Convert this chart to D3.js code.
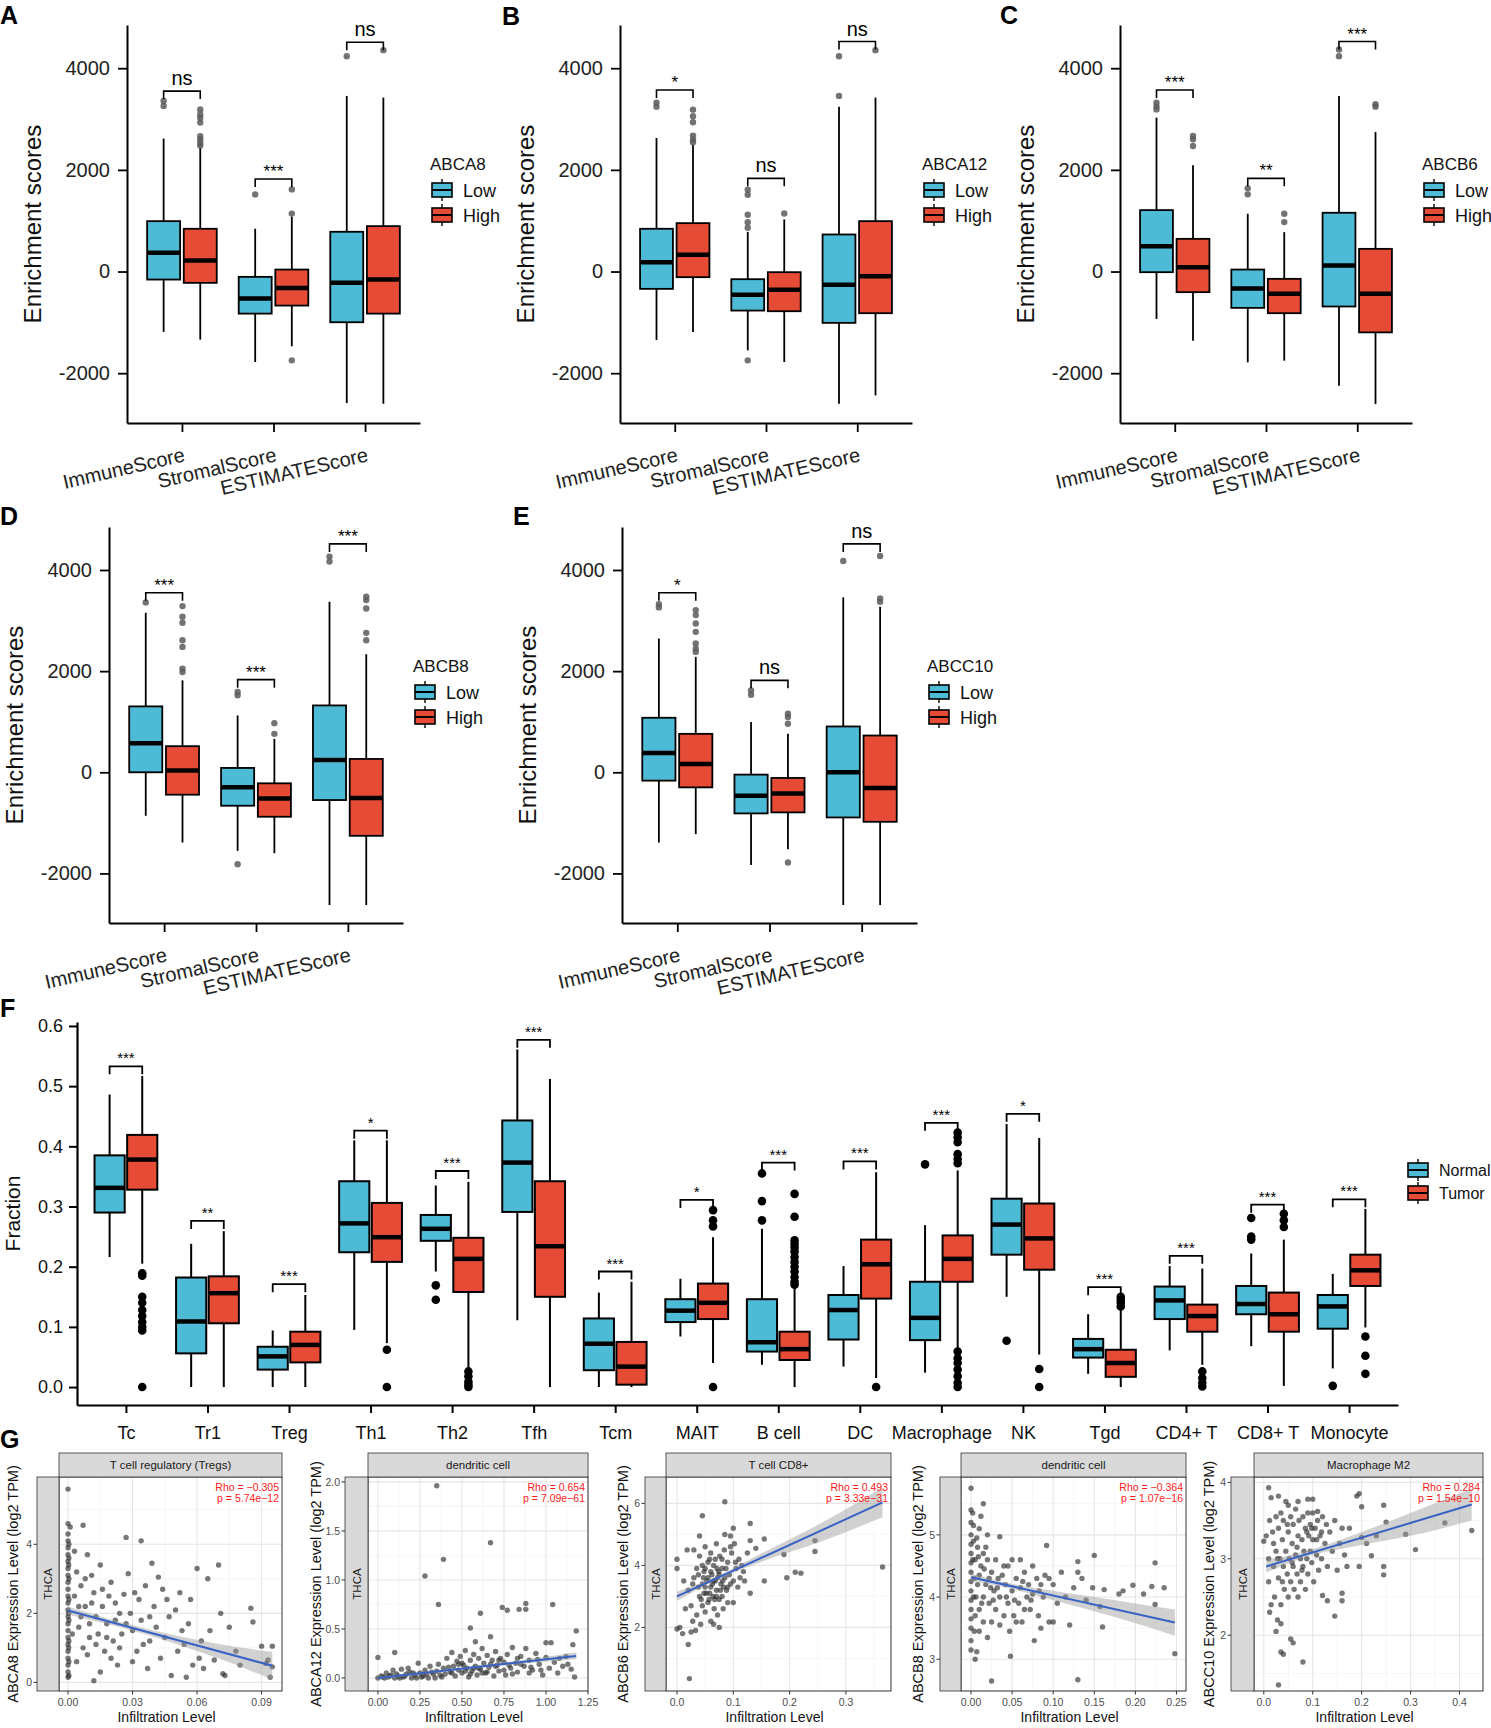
<!DOCTYPE html>
<html>
<head>
<meta charset="utf-8">
<script src="https://cdn.jsdelivr.net/npm/d3@7"></script>
<style>
  body { margin: 0; background: #fff; }
  svg { display: block; font-family: Arial, "Liberation Sans", Helvetica, sans-serif; }
</style>
</head>
<body>
<svg id="fig" width="1491" height="1728"></svg>
<script>
// ---------- data : panels A-E (ESTIMATE scores) ----------
const scoreCats = ["ImmuneScore", "StromalScore", "ESTIMATEScore"];
// each box : [lower whisker, q1, median, q3, upper whisker]
const abca8Low = [[-1188, -158, 368, 991, 2615], [-1780, -828, -532, -105, 841], [-2588, -998, -223, 782, 3455]];
const abca8High = [[-1340, -223, 217, 841, 2440], [-1471, -670, -322, 39, 1080], [-2601, -828, -158, 893, 3422]];
const abca8LowOut = [[3356, 3258], [1517], [4236]];
const abca8HighOut = [[3190, 3090, 3020, 2930, 2660, 2600, 2530, 2480], [1616, 1140, -1747], [4355]];
const abca8Sig = ["ns", "***", "ns"];
const abca8SigY = [3550, 1820, 4510];

const abca12Low = [[-1347, -341, 184, 841, 2627], [-1550, -768, -459, -151, 780], [-2601, -1010, -262, 729, 3244]];
const abca12High = [[-1188, -111, 328, 952, 2500], [-1780, -781, -360, -13, 1025], [-2437, -820, -92, 991, 3422]];
const abca12LowOut = [[3323, 3244], [1610, 1511, 1118, 971, 860, -1747], [4236, 3455]];
const abca12HighOut = [[3185, 3054, 2936, 2674, 2595, 2542], [1143], [4355]];
const abca12Sig = ["*", "ns", "ns"];
const abca12SigY = [3572, 1833, 4525];

const abcb6Low = [[-932, -13, 498, 1208, 3028], [-1787, -715, -335, 39, 1137], [-2247, -688, 118, 1156, 3455]];
const abcb6High = [[-1360, -406, 85, 643, 2090], [-1754, -820, -439, -144, 775], [-2608, -1197, -439, 446, 2746]];
const abcb6LowOut = [[3320, 3250, 3190], [1636, 1518], [4367, 4236]];
const abcb6HighOut = [[2667, 2601, 2470], [1137, 972], [3290, 3244]];
const abcb6Sig = ["***", "**", "***"];
const abcb6SigY = [3570, 1833, 4525];

const abcb8Low = [[-860, 0, 575, 1303, 3154], [-1554, -661, -298, 86, 1124], [-2625, -549, 245, 1322, 3372]];
const abcb8High = [[-1389, -443, 33, 516, 1818], [-1600, -879, -516, -218, 661], [-2625, -1256, -509, 264, 2334]];
const abcb8LowOut = [[3359], [1587, 1521, -1818], [4265, 4166]];
const abcb8HighOut = [[3286, 3075, 2956, 2612, 2479, 2050, 1984], [972, 760], [3471, 3405, 3240, 2757, 2612]];
const abcb8Sig = ["***", "***", "***"];
const abcb8SigY = [3551, 1832, 4516];

const abcc10Low = [[-1389, -165, 383, 1078, 2645], [-1832, -813, -463, -46, 992], [-2625, -893, 0, 906, 3458]];
const abcc10High = [[-1223, -298, 165, 760, 2281], [-1521, -793, -417, -112, 760], [-2625, -979, -311, 727, 3273]];
const abcc10LowOut = [[3326, 3260], [1620, 1534], [4179]];
const abcc10HighOut = [[3207, 3108, 2942, 2777, 2546, 2446, 2380], [1157, 1091, 959, -1785], [4278, 3438, 3372]];
const abcc10Sig = ["*", "ns", "ns"];
const abcc10SigY = [3551, 1818, 4516];

const scoreTicks = [-2000, 0, 2000, 4000];
const groupNames = ["Low", "High"];

// ---------- data : panel F (immune cell fractions) ----------
const cellTypes = ["Tc", "Tr1", "Treg", "Th1", "Th2", "Tfh", "Tcm", "MAIT", "B cell", "DC", "Macrophage", "NK", "Tgd", "CD4+ T", "CD8+ T", "Monocyte"];
const normalStats = [
  [0.216, 0.290, 0.331, 0.385, 0.486], [0.0, 0.056, 0.109, 0.182, 0.238], [0.0, 0.029, 0.051, 0.067, 0.094],
  [0.095, 0.224, 0.272, 0.342, 0.410], [0.192, 0.243, 0.263, 0.286, 0.335], [0.111, 0.291, 0.373, 0.443, 0.561],
  [0.0, 0.028, 0.072, 0.114, 0.157], [0.084, 0.108, 0.127, 0.146, 0.180], [0.037, 0.059, 0.0745, 0.146, 0.263],
  [0.034, 0.079, 0.128, 0.153, 0.201], [0.024, 0.078, 0.115, 0.175, 0.269], [0.150, 0.220, 0.270, 0.313, 0.437],
  [0.022, 0.049, 0.063, 0.080, 0.121], [0.061, 0.113, 0.144, 0.167, 0.201], [0.068, 0.121, 0.138, 0.168, 0.222],
  [0.031, 0.097, 0.134, 0.153, 0.188]];
const tumorStats = [
  [0.205, 0.328, 0.378, 0.419, 0.517], [0.0, 0.106, 0.156, 0.184, 0.259], [0.0, 0.041, 0.070, 0.092, 0.153],
  [0.073, 0.208, 0.249, 0.306, 0.410], [0.031, 0.158, 0.213, 0.248, 0.341], [0.0, 0.150, 0.234, 0.342, 0.512],
  [0.0, 0.004, 0.034, 0.075, 0.175], [0.040, 0.113, 0.140, 0.172, 0.249], [0.0, 0.045, 0.063, 0.092, 0.167],
  [0.015, 0.147, 0.204, 0.245, 0.357], [0.065, 0.175, 0.213, 0.252, 0.360], [0.054, 0.195, 0.247, 0.305, 0.414],
  [0.0, 0.017, 0.040, 0.062, 0.128], [0.037, 0.092, 0.118, 0.137, 0.197], [0.002, 0.092, 0.121, 0.157, 0.245],
  [0.099, 0.168, 0.194, 0.220, 0.296]];
const normalOut = [[], [], [], [], [0.169, 0.145], [], [], [], [0.355, 0.309, 0.277], [], [0.370], [0.077], [], [], [0.281, 0.250, 0.245], [0.002]];
const tumorOut = [
  [0.189, 0.185, 0.150, 0.140, 0.128, 0.118, 0.108, 0.100, 0.094, 0.0], [], [], [0.062, 0.0],
  [0.026, 0.018, 0.009, 0.004, 0.0], [], [], [0.294, 0.277, 0.267, 0.0],
  [0.321, 0.283, 0.244, 0.238, 0.232, 0.225, 0.216, 0.208, 0.200, 0.192, 0.183, 0.175, 0.170], [0.0],
  [0.423, 0.415, 0.407, 0.387, 0.379, 0.372, 0.059, 0.048, 0.040, 0.029, 0.018, 0.007, 0.0], [0.030, 0.0],
  [0.150, 0.145, 0.140, 0.134], [0.026, 0.015, 0.007, 0.001], [0.288, 0.277, 0.266], [0.084, 0.052, 0.022]];
const cellSig = ["***", "**", "***", "*", "***", "***", "***", "*", "***", "***", "***", "*", "***", "***", "***", "***"];
const cellSigY = [0.533, 0.276, 0.171, 0.426, 0.359, 0.577, 0.192, 0.311, 0.373, 0.375, 0.439, 0.454, 0.166, 0.218, 0.303, 0.312];
const fractionTicks = [0, 0.1, 0.2, 0.3, 0.4, 0.5, 0.6];
const tissueNames = ["Normal", "Tumor"];

// ---------- data : panel G (TIMER correlations) ----------
const g1Points = [[0,5.6],[0,4.6],[0,4.3],[0,4.1],[0,3.9],[0,3.7],[0,3.5],[0,3.3],[0,3.1],[0,2.9],[0,2.7],[0,2.5],[0,2.3],[0,2.1],[0,1.9],[0,1.7],[0,1.5],[0,1.3],[0,1.1],[0,0.9],[0,0.7],[0,0.5],[0,0.3],[0,0.15],
  [0.0004,4.0],[0.0004,3.6],[0.0004,3.0],[0.0004,2.4],[0.0004,1.8],[0.0004,1.2],[0.0004,0.6],[0.0004,0.2],[0.0003,3.4],[0.0003,2.0],[0.0003,1.0],
  [0.001,4.5],[0.007,4.55],[0.009,3.7],[0.004,3.2],[0.006,2.8],[0.003,2.5],[0.008,2.2],[0.011,3.1],[0.012,2.6],[0.013,1.9],[0.005,1.6],[0.01,1.3],[0.007,1.0],[0.004,0.6],[0.012,0.05],
  [0.015,3.4],[0.016,2.2],[0.018,1.7],[0.02,2.9],[0.021,1.2],[0.023,0.5],[0.024,2.0],[0.026,2.55],[0.027,4.2],[0.028,3.15],[0.03,1.5],[0.032,0.9],[0.033,2.4],[0.034,4.1],[0.035,1.1],
  [0.036,2.8],[0.037,0.4],[0.038,1.9],[0.039,3.45],[0.04,2.2],[0.041,1.6],[0.042,3.05],[0.043,0.7],[0.044,2.7],[0.045,1.3],[0.047,1.9],[0.048,0.2],[0.05,2.1],[0.051,0.9],[0.052,2.6],
  [0.053,1.5],[0.055,0.15],[0.056,1.7],[0.057,2.4],[0.06,3.3],[0.061,0.7],[0.062,1.2],[0.063,0.4],[0.065,3.0],[0.066,1.5],[0.068,0.65],[0.07,3.4],[0.071,2.0],[0.072,0.25],[0.073,0.2],
  [0.075,1.6],[0.078,0.9],[0.08,0.5],[0.085,2.15],[0.086,1.75],[0.09,1.05],[0.092,0.55],[0.095,0.45],[0.094,0.15],[0.095,1.05],[0.093,0.65],
  [0.002,1.4],[0.006,1.9],[0.009,0.8],[0.014,1.4],[0.017,0.9],[0.019,2.5],[0.022,1.8],[0.025,1.4],[0.029,2.0],[0.031,2.6],[0.015,0.3],[0.02,0.7],[0.011,2.3],[0.008,3.0],
  [0.003,3.8],[0.005,2.2],[0.01,1.7],[0.013,1.1],[0.016,2.7],[0.018,1.3],[0.022,2.3],[0.024,1.0],[0.027,1.7],[0.03,0.6],[0.034,1.8],[0.038,1.2],[0.046,2.4],[0.054,1.1],[0.058,0.5]];
const g1Line = [[0, 2.08], [0.095, 0.48]];
const g1Band = [[0, 1.96, 2.2], [0.025, 1.58, 1.74], [0.05, 1.12, 1.36], [0.075, 0.58, 1.06], [0.095, 0.08, 0.88]];

const g2Points = [[0.35,1.96],[0.67,1.38],[0.39,1.21],[0.28,1.04],[0.36,0.75],[0.61,0.66],[0.74,0.72],[0.77,0.69],[0.84,0.70],[0.88,0.76],[0.88,0.70],[1.04,0.75],[0.55,0.51],[1.18,0.48],[0.67,0.42],
  [0.0,0.21],[0.1,0.26],[1.0,0.36],[1.03,0.36],[1.16,0.34],[0.58,0.37],
  [0.0,0.0],[0.02,0.02],[0.04,0.0],[0.06,0.01],[0.08,0.03],[0.1,0.0],[0.12,0.02],[0.14,0.09],[0.15,0.01],[0.17,0.04],[0.19,0.06],[0.2,0.0],[0.22,0.03],[0.24,0.15],[0.25,0.05],[0.27,0.02],
  [0.28,0.08],[0.3,0.0],[0.31,0.12],[0.33,0.04],[0.35,0.07],[0.36,0.14],[0.38,0.01],[0.39,0.1],[0.4,0.04],[0.41,0.2],[0.43,0.06],[0.44,0.26],[0.45,0.12],[0.46,0.02],[0.47,0.17],[0.48,0.08],
  [0.49,0.22],[0.5,0.05],[0.51,0.13],[0.52,0.28],[0.53,0.1],[0.54,0.01],[0.55,0.18],[0.56,0.07],[0.57,0.24],[0.58,0.12],[0.59,0.03],[0.6,0.2],[0.61,0.09],[0.62,0.3],[0.63,0.15],[0.64,0.05],
  [0.65,0.23],[0.66,0.11],[0.68,0.18],[0.69,0.02],[0.7,0.27],[0.71,0.13],[0.72,0.07],[0.73,0.2],[0.75,0.16],[0.76,0.03],[0.77,0.24],[0.79,0.1],[0.8,0.31],[0.82,0.15],[0.83,0.06],[0.85,0.22],
  [0.87,0.12],[0.88,0.3],[0.9,0.18],[0.92,0.08],[0.94,0.25],[0.96,0.14],[0.98,0.03],[1.0,0.21],[1.02,0.1],[1.05,0.16],[1.07,0.05],[1.1,0.12],[1.12,0.22],[1.15,0.09],[1.17,0.01],
  [0.05,0.05],[0.09,0.08],[0.13,0.0],[0.18,0.1],[0.23,0.0],[0.29,0.04],[0.34,0.0],[0.42,0.11],[0.5,0.15],[0.55,0.04],[0.6,0.1],[0.65,0.06],[0.7,0.12],[0.75,0.08],[0.8,0.04],[0.85,0.14],
  [0.9,0.05],[0.95,0.19],[0.03,0.01],[0.07,0.02],[0.11,0.04],[0.16,0.02],[0.21,0.05],[0.26,0.01],[0.32,0.06],[0.37,0.03],[0.44,0.05],[0.48,0.14],[0.52,0.07],[0.57,0.1],[0.62,0.05],[0.67,0.14],
  [0.72,0.18],[0.78,0.13],[0.83,0.2],[0.91,0.11],[0.97,0.08],[1.08,0.2],[1.13,0.14]];
const g2Line = [[0, 0.0], [1.18, 0.225]];
const g2Band = [[0, -0.02, 0.02], [0.5, 0.085, 0.105], [1.18, 0.19, 0.26]];

const g3Points = [[0.085,6.05],[0.045,5.6],[0.13,5.35],[0.1,5.2],[0.365,3.95],[0.245,4.8],[0.245,4.45],[0.19,4.35],[0.21,3.78],[0.22,3.75],[0.195,3.6],[0.155,3.5],[0.13,3.1],[0.155,4.85],
  [0.022,0.35],[0.02,1.45],[0.01,1.8],[0.0,1.95],[0.005,2.0],[0.025,1.85],[0.0,4.2],[0.0,3.9],[0.04,4.95],[0.085,5.0],[0.095,4.95],[0.13,4.8],[0.14,4.55],
  [0.02,3.2],[0.025,2.7],[0.03,3.6],[0.03,4.5],[0.035,2.4],[0.035,3.9],[0.04,3.0],[0.04,4.3],[0.042,2.1],[0.045,3.4],[0.045,2.7],[0.048,3.8],[0.05,4.6],[0.05,2.5],[0.052,3.1],[0.055,3.6],
  [0.055,4.1],[0.057,2.9],[0.06,3.3],[0.06,2.2],[0.06,4.4],[0.062,3.7],[0.064,3.0],[0.065,4.0],[0.066,2.6],[0.068,3.5],[0.07,4.7],[0.07,3.2],[0.072,2.4],[0.074,3.8],[0.075,2.9],[0.076,4.3],
  [0.078,3.4],[0.08,3.0],[0.08,3.9],[0.082,2.6],[0.084,4.5],[0.085,3.6],[0.088,3.2],[0.09,4.1],[0.09,2.8],[0.093,3.7],[0.095,4.6],[0.097,4.4],[0.1,3.5],[0.1,2.8],[0.102,4.7],[0.105,3.9],
  [0.108,3.3],[0.11,4.2],[0.112,3.6],[0.115,4.0],[0.12,3.5],[0.125,4.4],[0.05,3.9],[0.065,3.5],[0.058,3.1],[0.047,3.6],[0.072,3.6],[0.081,3.5],[0.038,3.3],[0.015,2.6],[0.028,2.2],[0.033,1.9],
  [0.065,2.1],[0.075,2.0],[0.012,3.5],[0.018,4.5],[0.09,3.3],[0.068,4.2],[0.055,2.8],[0.045,4.0],[0.05,3.3],[0.06,3.8],[0.07,3.0],[0.075,3.7],[0.08,4.2],[0.063,3.4],[0.053,3.5],[0.043,2.9],
  [0.067,2.9],[0.077,3.2],[0.087,3.9],[0.058,4.2],[0.048,3.1],[0.038,3.7],[0.028,3.4],[0.071,3.9],[0.083,3.3],[0.095,3.4],[0.104,4.1],[0.118,3.8]];
const g3Line = [[0, 3.0], [0.365, 6.03]];
const g3Band = [[0, 2.85, 3.15], [0.06, 3.44, 3.56], [0.15, 4.12, 4.38], [0.25, 4.73, 5.3], [0.365, 5.55, 6.5]];

const g4Points = [[0,5.75],[0,5.4],[0,5.2],[0,5.0],[0,4.85],[0,4.7],[0,4.55],[0,4.4],[0,4.25],[0,4.1],[0,3.95],[0,3.8],[0,3.65],[0,3.5],[0,3.3],[0,3.15],
  [0.002,5.35],[0.003,4.9],[0.002,4.6],[0.004,4.3],[0.003,4.0],[0.005,3.7],[0.004,3.45],
  [0.015,5.5],[0.01,5.1],[0.008,4.8],[0.012,4.5],[0.015,4.7],[0.018,4.2],[0.02,4.6],[0.022,3.9],[0.025,4.4],[0.025,2.65],[0.028,4.1],[0.03,4.6],[0.03,3.8],[0.033,4.3],[0.035,4.0],[0.035,4.97],
  [0.04,4.5],[0.04,3.7],[0.042,4.2],[0.045,3.9],[0.047,3.45],[0.048,3.05],[0.05,4.6],[0.05,4.1],[0.052,3.7],[0.055,4.3],[0.058,3.9],[0.06,4.15],[0.062,3.6],[0.065,4.4],[0.068,4.0],[0.07,4.2],
  [0.072,3.8],[0.075,4.05],[0.077,3.3],[0.08,4.3],[0.082,3.7],[0.085,3.5],[0.088,4.0],[0.09,4.35],[0.092,4.83],[0.095,3.6],[0.1,4.2],[0.1,3.6],[0.105,3.9],[0.11,4.4],[0.115,4.0],[0.12,3.55],
  [0.125,4.15],[0.13,4.57],[0.13,4.4],[0.13,2.67],[0.135,4.3],[0.14,3.95],[0.148,4.15],[0.15,4.67],[0.157,3.85],[0.16,3.52],[0.162,4.12],[0.18,4.05],[0.185,4.1],[0.197,4.19],[0.21,4.05],
  [0.22,4.17],[0.224,4.55],[0.224,3.88],[0.235,4.15],[0.248,3.09],[0.005,3.0],[0.007,3.12],[0.01,3.45],[0.015,3.6],[0.02,3.35],[0.01,3.8],[0.02,5.0],[0.035,3.55],[0.045,4.5],[0.055,3.6],
  [0.065,3.8],[0.06,4.6],[0.075,4.5],[0.085,4.2],[0.095,4.3],[0.015,4.0],[0.025,3.6],[0.012,5.3],[0.008,4.2],[0.005,4.6],[0.006,4.0],[0.01,4.35],[0.013,3.9],[0.018,4.8],[0.022,4.3],
  [0.027,3.95],[0.032,4.15],[0.038,4.35],[0.043,4.0],[0.053,3.95],[0.063,4.25],[0.073,3.95],[0.083,4.1],[0.009,4.65],[0.016,4.45],[0.024,4.15],[0.003,5.15],[0.007,4.95]];
const g4Line = [[0, 4.32], [0.248, 3.59]];
const g4Band = [[0, 4.26, 4.38], [0.03, 4.19, 4.27], [0.1, 3.95, 4.1], [0.175, 3.68, 3.95], [0.248, 3.38, 3.8]];

const g5Points = [[0.01,3.93],[0.03,3.82],[0.0,3.23],[0.03,1.35],[0.035,1.78],[0.04,1.75],[0.08,1.65],[0.055,1.95],[0.06,1.9],[0.145,2.25],[0.425,3.37],[0.37,3.47],[0.31,3.12],[0.29,3.32],
  [0.25,3.48],[0.245,3.7],[0.245,2.9],[0.245,2.79],[0.22,3.04],[0.2,3.68],[0.195,3.85],[0.19,3.82],[0.16,2.45],[0.16,2.55],[0.13,2.45],[0.12,2.52],[0.175,3.4],[0.2,3.28],[0.21,3.2],[0.23,3.3],
  [0.195,2.9],[0.07,3.75],
  [0.005,3.3],[0.01,3.0],[0.01,2.7],[0.012,3.5],[0.015,2.4],[0.015,3.8],[0.02,3.2],[0.02,2.9],[0.022,2.5],[0.025,3.55],[0.025,3.1],[0.028,2.2],[0.03,3.4],[0.03,2.75],[0.033,3.0],[0.035,3.6],
  [0.035,2.4],[0.038,3.25],[0.04,2.9],[0.04,3.5],[0.042,2.6],[0.045,3.1],[0.045,3.75],[0.048,2.8],[0.05,3.35],[0.05,2.5],[0.052,3.0],[0.055,3.55],[0.055,2.7],[0.058,3.2],[0.06,2.9],[0.06,3.45],
  [0.062,2.6],[0.065,3.05],[0.065,3.65],[0.068,2.8],[0.07,3.3],[0.07,2.5],[0.072,3.5],[0.075,3.0],[0.075,2.7],[0.078,3.25],[0.08,3.55],[0.08,2.9],[0.082,3.1],[0.085,3.4],[0.085,2.6],[0.088,3.0],
  [0.09,3.6],[0.09,2.8],[0.092,3.3],[0.095,3.1],[0.095,3.45],[0.098,2.95],[0.1,3.25],[0.1,3.6],[0.102,2.7],[0.105,3.4],[0.108,3.05],[0.11,3.5],[0.112,2.85],[0.115,3.3],[0.118,3.0],[0.12,3.55],
  [0.125,3.2],[0.13,2.9],[0.135,3.35],[0.14,3.1],[0.145,3.5],[0.15,2.85],[0.155,3.2],[0.16,3.4],[0.165,3.05],[0.17,2.9],[0.09,3.78],[0.1,3.78],[0.11,3.62],[0.05,3.7],
  [0.018,3.35],[0.028,3.0],[0.038,2.7],[0.048,3.45],[0.058,2.95],[0.068,3.15],[0.078,2.85],[0.088,3.35],[0.098,3.4],[0.108,3.25],[0.118,3.35],[0.128,3.45],[0.012,2.3],[0.025,2.05],[0.035,2.15]];
const g5Line = [[0.005, 2.9], [0.425, 3.71]];
const g5Band = [[0.005, 2.82, 2.98], [0.08, 3.01, 3.09], [0.2, 3.18, 3.35], [0.3, 3.3, 3.6], [0.425, 3.5, 3.92]];

// ---------- drawing ----------
const colLow = "#4DBBD5", colHigh = "#E64B35";
const svg = d3.select("#fig");

function panelLabel(txt, x, y) {
  svg.append("text").attr("x", x).attr("y", y).text(txt)
    .attr("font-size", 25).attr("font-weight", "bold").attr("fill", "#000");
}

function drawBox(g, cx, w, s, y, fill, medW, lw) {
  g.append("line").attr("x1", cx).attr("x2", cx).attr("y1", y(s[0])).attr("y2", y(s[1]))
    .attr("stroke", "#000").attr("stroke-width", lw);
  g.append("line").attr("x1", cx).attr("x2", cx).attr("y1", y(s[3])).attr("y2", y(s[4]))
    .attr("stroke", "#000").attr("stroke-width", lw);
  g.append("rect").attr("x", cx - w / 2).attr("y", y(s[3])).attr("width", w).attr("height", y(s[1]) - y(s[3]))
    .attr("fill", fill).attr("stroke", "#000").attr("stroke-width", lw);
  g.append("line").attr("x1", cx - w / 2).attr("x2", cx + w / 2).attr("y1", y(s[2])).attr("y2", y(s[2]))
    .attr("stroke", "#000").attr("stroke-width", medW);
}

function legendKey(g, x, y, fill) {
  g.append("line").attr("x1", x + 10).attr("x2", x + 10).attr("y1", y - 11).attr("y2", y + 11).attr("stroke", "#000").attr("stroke-width", 1.4);
  g.append("rect").attr("x", x).attr("y", y - 7).attr("width", 20).attr("height", 14)
    .attr("fill", fill).attr("stroke", "#000").attr("stroke-width", 1.6);
  g.append("line").attr("x1", x).attr("x2", x + 20).attr("y1", y).attr("y2", y).attr("stroke", "#000").attr("stroke-width", 2);
}

function bracket(g, xa, xb, yv, label, fs) {
  g.append("path").attr("d", `M${xa},${yv + 8}V${yv}H${xb}V${yv + 8}`)
    .attr("fill", "none").attr("stroke", "#000").attr("stroke-width", 1.6);
  g.append("text").attr("x", (xa + xb) / 2).attr("y", label === "ns" ? yv - 6 : yv - 2)
    .attr("text-anchor", "middle").attr("font-size", label === "ns" ? 20 : fs).attr("fill", "#000").text(label);
}

function scorePanel(c) {
  const g = svg.append("g");
  const x = d3.scalePoint().domain(scoreCats).range([c.x0, c.x1]).padding(0.6);
  const y = d3.scaleLinear().domain([-2980, 4850]).range([c.y1, c.y0]);
  const step = x.step(), off = step * 0.2, bw = step * 0.36;

  const ya = g.append("g").attr("transform", `translate(${c.x0},0)`)
    .call(d3.axisLeft(y).tickValues(scoreTicks).tickSize(9).tickSizeOuter(0).tickPadding(8).tickFormat(d => String(d)));
  const xa = g.append("g").attr("transform", `translate(0,${c.y1})`)
    .call(d3.axisBottom(x).tickSize(9).tickSizeOuter(0).tickFormat(""));
  [ya, xa].forEach(a => {
    a.select(".domain").attr("stroke", "#000").attr("stroke-width", 2);
    a.selectAll(".tick line").attr("stroke", "#000").attr("stroke-width", 1.8);
    a.selectAll(".tick text").attr("font-size", 20).attr("fill", "#222").attr("font-family", null);
  });

  scoreCats.forEach((cat, i) => {
    g.append("text").attr("transform", `translate(${x(cat) + 4},${c.y1 + 38}) rotate(-13)`)
      .attr("text-anchor", "end").attr("font-size", 20).attr("fill", "#222").text(cat);
    drawBox(g, x(cat) - off, bw, c.low[i], y, colLow, 4.5, 1.8);
    drawBox(g, x(cat) + off, bw, c.high[i], y, colHigh, 4.5, 1.8);
    g.selectAll(null).data(c.lowOut[i]).join("circle")
      .attr("cx", x(cat) - off).attr("cy", d => y(d)).attr("r", 3.2).attr("fill", "#5a5a5a").attr("opacity", 0.85);
    g.selectAll(null).data(c.highOut[i]).join("circle")
      .attr("cx", x(cat) + off).attr("cy", d => y(d)).attr("r", 3.2).attr("fill", "#5a5a5a").attr("opacity", 0.85);
    bracket(g, x(cat) - off, x(cat) + off, y(c.sigY[i]), c.sig[i], 17);
  });

  g.append("text").attr("transform", `translate(${c.x0 - 86},${(c.y0 + c.y1) / 2}) rotate(-90)`)
    .attr("text-anchor", "middle").attr("font-size", 24).attr("fill", "#111").text("Enrichment scores");

  // legend
  const lx = c.x1 + 10, ly = c.y0 + 145;
  g.append("text").attr("x", lx).attr("y", ly).attr("font-size", 17).attr("fill", "#111").text(c.gene);
  [colLow, colHigh].forEach((col, k) => {
    legendKey(g, lx + 2, ly + 20 + k * 25, col);
    g.append("text").attr("x", lx + 33).attr("y", ly + 27 + k * 25).attr("font-size", 18).attr("fill", "#111").text(groupNames[k]);
  });
}

scorePanel({ x0: 127, x1: 420, y0: 25, y1: 423, gene: "ABCA8", low: abca8Low, high: abca8High, lowOut: abca8LowOut, highOut: abca8HighOut, sig: abca8Sig, sigY: abca8SigY });
scorePanel({ x0: 620, x1: 912, y0: 25, y1: 423, gene: "ABCA12", low: abca12Low, high: abca12High, lowOut: abca12LowOut, highOut: abca12HighOut, sig: abca12Sig, sigY: abca12SigY });
scorePanel({ x0: 1120, x1: 1412, y0: 25, y1: 423, gene: "ABCB6", low: abcb6Low, high: abcb6High, lowOut: abcb6LowOut, highOut: abcb6HighOut, sig: abcb6Sig, sigY: abcb6SigY });
scorePanel({ x0: 109, x1: 403, y0: 527, y1: 923, gene: "ABCB8", low: abcb8Low, high: abcb8High, lowOut: abcb8LowOut, highOut: abcb8HighOut, sig: abcb8Sig, sigY: abcb8SigY });
scorePanel({ x0: 622, x1: 917, y0: 527, y1: 923, gene: "ABCC10", low: abcc10Low, high: abcc10High, lowOut: abcc10LowOut, highOut: abcc10HighOut, sig: abcc10Sig, sigY: abcc10SigY });

// ---------- panel F ----------
(function () {
  const g = svg.append("g");
  const x0 = 77, x1 = 1398, y0 = 1022, y1 = 1405;
  const x = d3.scalePoint().domain(cellTypes).range([x0, x1]).padding(0.6);
  const y = d3.scaleLinear().domain([-0.0298, 0.6066]).range([y1, y0]);
  const step = x.step(), off = step * 0.2, bw = step * 0.37;

  const ya = g.append("g").attr("transform", `translate(${x0},0)`)
    .call(d3.axisLeft(y).tickValues(fractionTicks).tickSize(8).tickSizeOuter(0).tickPadding(6).tickFormat(d3.format(".1f")));
  const xa = g.append("g").attr("transform", `translate(0,${y1})`)
    .call(d3.axisBottom(x).tickSize(8).tickSizeOuter(0).tickPadding(13));
  [ya, xa].forEach(a => {
    a.select(".domain").attr("stroke", "#000").attr("stroke-width", 2.2);
    a.selectAll(".tick line").attr("stroke", "#000").attr("stroke-width", 2);
    a.selectAll(".tick text").attr("font-size", 18).attr("fill", "#111").attr("font-family", null);
  });

  cellTypes.forEach((ct, i) => {
    drawBox(g, x(ct) - off, bw, normalStats[i], y, colLow, 4.5, 2);
    drawBox(g, x(ct) + off, bw, tumorStats[i], y, colHigh, 4.5, 2);
    g.selectAll(null).data(normalOut[i]).join("circle")
      .attr("cx", x(ct) - off).attr("cy", d => y(d)).attr("r", 4.3).attr("fill", "#000");
    g.selectAll(null).data(tumorOut[i]).join("circle")
      .attr("cx", x(ct) + off).attr("cy", d => y(d)).attr("r", 4.3).attr("fill", "#000");
    g.append("path").attr("d", `M${x(ct) - off},${y(cellSigY[i]) + 8}V${y(cellSigY[i])}H${x(ct) + off}V${y(cellSigY[i]) + 8}`)
      .attr("fill", "none").attr("stroke", "#000").attr("stroke-width", 1.8);
    g.append("text").attr("x", x(ct)).attr("y", y(cellSigY[i]) - 3).attr("text-anchor", "middle")
      .attr("font-size", 15).attr("fill", "#000").text(cellSig[i]);
  });

  g.append("text").attr("transform", `translate(20,${(y0 + y1) / 2}) rotate(-90)`)
    .attr("text-anchor", "middle").attr("font-size", 21).attr("fill", "#111").text("Fraction");

  [colLow, colHigh].forEach((col, k) => {
    legendKey(g, 1408, 1170 + k * 23, col);
    g.append("text").attr("x", 1439).attr("y", 1176 + k * 23).attr("font-size", 16).attr("fill", "#111").text(tissueNames[k]);
  });
})();

// ---------- panel G ----------
function scatterPanel(c, idx) {
  const g = svg.append("g");
  const top = 1477, bot = 1691, head = 1453;
  const x = d3.scaleLinear().domain(c.xDom).range([c.px0, c.px1]);
  const y = d3.scaleLinear().domain(c.yDom).range([bot, top]);

  g.append("rect").attr("x", c.px0).attr("y", top).attr("width", c.px1 - c.px0).attr("height", bot - top).attr("fill", "#fff");
  c.xMinor.forEach(v => g.append("line").attr("x1", x(v)).attr("x2", x(v)).attr("y1", top).attr("y2", bot).attr("stroke", "#f2f2f2").attr("stroke-width", 0.7));
  c.yMinor.forEach(v => g.append("line").attr("x1", c.px0).attr("x2", c.px1).attr("y1", y(v)).attr("y2", y(v)).attr("stroke", "#f2f2f2").attr("stroke-width", 0.7));
  c.xTicks.forEach(v => g.append("line").attr("x1", x(v)).attr("x2", x(v)).attr("y1", top).attr("y2", bot).attr("stroke", "#e6e6e6").attr("stroke-width", 1.1));
  c.yTicks.forEach(v => g.append("line").attr("x1", c.px0).attr("x2", c.px1).attr("y1", y(v)).attr("y2", y(v)).attr("stroke", "#e6e6e6").attr("stroke-width", 1.1));

  svg.append("clipPath").attr("id", "clipG" + idx).append("rect")
    .attr("x", c.px0).attr("y", top).attr("width", c.px1 - c.px0).attr("height", bot - top);
  const inner = g.append("g").attr("clip-path", `url(#clipG${idx})`);

  inner.selectAll("circle").data(c.pts).join("circle")
    .attr("cx", d => x(d[0])).attr("cy", d => y(d[1])).attr("r", 2.7)
    .attr("fill", "#2e2e2e").attr("opacity", 0.65);
  inner.append("path").datum(c.band)
    .attr("d", d3.area().x(d => x(d[0])).y0(d => y(d[1])).y1(d => y(d[2])).curve(d3.curveMonotoneX))
    .attr("fill", "#999").attr("opacity", 0.45);
  inner.append("path").datum(c.line)
    .attr("d", d3.line().x(d => x(d[0])).y(d => y(d[1])))
    .attr("fill", "none").attr("stroke", "#3a62c4").attr("stroke-width", 2);

  g.append("rect").attr("x", c.px0).attr("y", top).attr("width", c.px1 - c.px0).attr("height", bot - top)
    .attr("fill", "none").attr("stroke", "#333").attr("stroke-width", 1);

  // strips
  g.append("rect").attr("x", c.px0).attr("y", head).attr("width", c.px1 - c.px0).attr("height", top - head)
    .attr("fill", "#d9d9d9").attr("stroke", "#333").attr("stroke-width", 0.8);
  g.append("text").attr("x", (c.px0 + c.px1) / 2).attr("y", head + 16).attr("text-anchor", "middle")
    .attr("font-size", 11.5).attr("fill", "#1a1a1a").text(c.strip);
  g.append("rect").attr("x", c.sx0).attr("y", top).attr("width", c.px0 - c.sx0).attr("height", bot - top)
    .attr("fill", "#d9d9d9").attr("stroke", "#333").attr("stroke-width", 0.8);
  g.append("text").attr("transform", `translate(${(c.sx0 + c.px0) / 2 + 4},${(top + bot) / 2}) rotate(-90)`)
    .attr("text-anchor", "middle").attr("font-size", 11.5).attr("fill", "#1a1a1a").text("THCA");

  // axes
  c.yTicks.forEach(v => {
    g.append("line").attr("x1", c.sx0 - 3.5).attr("x2", c.sx0).attr("y1", y(v)).attr("y2", y(v)).attr("stroke", "#333");
    g.append("text").attr("x", c.sx0 - 5).attr("y", y(v) + 3.8).attr("text-anchor", "end")
      .attr("font-size", 10.5).attr("fill", "#4d4d4d").text(c.yFmt(v));
  });
  c.xTicks.forEach(v => {
    g.append("line").attr("x1", x(v)).attr("x2", x(v)).attr("y1", bot).attr("y2", bot + 3.5).attr("stroke", "#333");
    g.append("text").attr("x", x(v)).attr("y", bot + 14.5).attr("text-anchor", "middle")
      .attr("font-size", 10.5).attr("fill", "#4d4d4d").text(c.xFmt(v));
  });
  g.append("text").attr("x", (c.px0 + c.px1) / 2 - 4).attr("y", 1722).attr("text-anchor", "middle")
    .attr("font-size", 14).attr("fill", "#111").text("Infiltration Level");
  g.append("text").attr("transform", `translate(${c.tx},${(top + bot) / 2}) rotate(-90)`)
    .attr("text-anchor", "middle").attr("font-size", 14.5).attr("fill", "#111").text(c.gene + " Expression Level (log2 TPM)");

  g.append("text").attr("x", c.px1 - 3).attr("y", top + 14).attr("text-anchor", "end")
    .attr("font-size", 10.5).attr("fill", "#ff1a1a").text(c.rho);
  g.append("text").attr("x", c.px1 - 3).attr("y", top + 24.5).attr("text-anchor", "end")
    .attr("font-size", 10.5).attr("fill", "#ff1a1a").text(c.p);
}

const f2 = d3.format(".2f"), f1 = d3.format(".1f"), fi = d => String(d);
scatterPanel({ sx0: 37, px0: 59, px1: 282, tx: 18, xDom: [-0.0042, 0.0995], yDom: [-0.25, 5.95],
  xTicks: [0, 0.03, 0.06, 0.09], xMinor: [0.015, 0.045, 0.075], yTicks: [0, 2, 4], yMinor: [1, 3, 5],
  xFmt: f2, yFmt: fi, strip: "T cell regulatory (Tregs)", gene: "ABCA8", rho: "Rho = \u22120.305", p: "p = 5.74e\u221212",
  pts: g1Points, line: g1Line, band: g1Band }, 1);
scatterPanel({ sx0: 345, px0: 368, px1: 588, tx: 321, xDom: [-0.059, 1.25], yDom: [-0.133, 2.05],
  xTicks: [0, 0.25, 0.5, 0.75, 1.0, 1.25], xMinor: [0.125, 0.375, 0.625, 0.875, 1.125], yTicks: [0, 0.5, 1.0, 1.5, 2.0], yMinor: [0.25, 0.75, 1.25, 1.75],
  xFmt: f2, yFmt: f1, strip: "dendritic cell", gene: "ABCA12", rho: "Rho = 0.654", p: "p = 7.09e\u221261",
  pts: g2Points, line: g2Line, band: g2Band }, 2);
scatterPanel({ sx0: 645, px0: 666, px1: 891, tx: 628, xDom: [-0.0195, 0.38], yDom: [-0.05, 6.85],
  xTicks: [0, 0.1, 0.2, 0.3], xMinor: [0.05, 0.15, 0.25, 0.35], yTicks: [2, 4, 6], yMinor: [1, 3, 5],
  xFmt: f1, yFmt: fi, strip: "T cell CD8+", gene: "ABCB6", rho: "Rho = 0.493", p: "p = 3.33e\u221231",
  pts: g3Points, line: g3Line, band: g3Band }, 3);
scatterPanel({ sx0: 940, px0: 961, px1: 1186, tx: 923, xDom: [-0.0122, 0.2616], yDom: [2.49, 5.93],
  xTicks: [0, 0.05, 0.1, 0.15, 0.2, 0.25], xMinor: [0.025, 0.075, 0.125, 0.175, 0.225], yTicks: [3, 4, 5], yMinor: [2.5, 3.5, 4.5, 5.5],
  xFmt: f2, yFmt: fi, strip: "dendritic cell", gene: "ABCB8", rho: "Rho = \u22120.364", p: "p = 1.07e\u221216",
  pts: g4Points, line: g4Line, band: g4Band }, 4);
scatterPanel({ sx0: 1231, px0: 1254, px1: 1483, tx: 1214, xDom: [-0.02, 0.448], yDom: [1.27, 4.07],
  xTicks: [0, 0.1, 0.2, 0.3, 0.4], xMinor: [0.05, 0.15, 0.25, 0.35], yTicks: [2, 3, 4], yMinor: [1.5, 2.5, 3.5],
  xFmt: f1, yFmt: fi, strip: "Macrophage M2", gene: "ABCC10", rho: "Rho = 0.284", p: "p = 1.54e\u221210",
  pts: g5Points, line: g5Line, band: g5Band }, 5);

panelLabel("A", 0, 24);
panelLabel("B", 502, 25);
panelLabel("C", 1000, 24);
panelLabel("D", 0, 525);
panelLabel("E", 513, 525);
panelLabel("F", 0, 1017);
panelLabel("G", 0, 1448);
</script>
</body>
</html>
